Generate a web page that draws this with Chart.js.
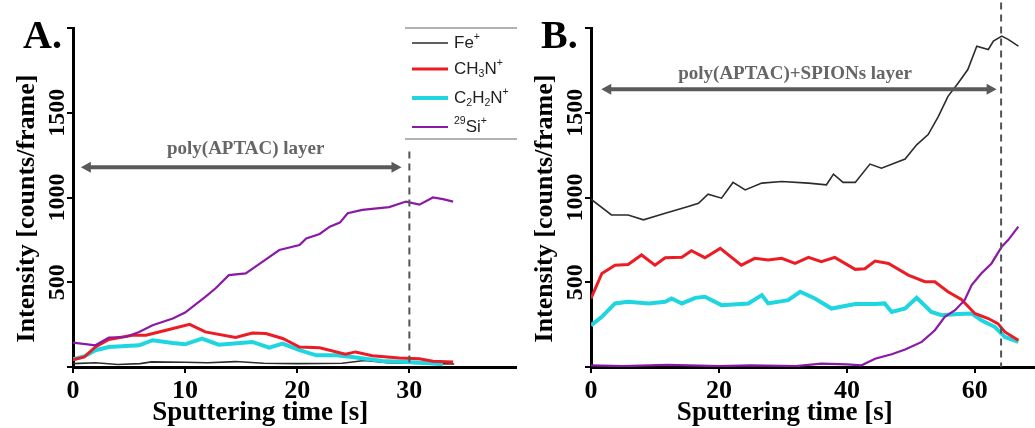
<!DOCTYPE html>
<html>
<head>
<meta charset="utf-8">
<script src="https://cdn.jsdelivr.net/npm/chart.js@4.4.1/dist/chart.umd.min.js"></script>
<style>
html, body { margin: 0; padding: 0; background: #fff; }
#wrap { position: relative; width: 1035px; height: 428px; overflow: hidden; }
#wrap canvas { position: absolute; top: 0; }
</style>
</head>
<body>
<div id="wrap">
    <canvas id="chartA" width="517" height="428" style="left:0"></canvas>
    <canvas id="chartB" width="518" height="428" style="left:517px"></canvas>
</div>
<script>
// panel A - poly(APTAC)
const timeA_fe = [0, 2, 4, 6, 7, 10, 12, 14.5, 17, 20, 24, 26, 28, 30, 32, 34];
const feA = [20, 25, 15, 20, 30, 28, 25, 32, 22, 20, 22, 38, 25, 22, 20, 18];
const timeA_ch = [0, 1, 2, 3.2, 5.3, 6.5, 8.3, 10.4, 11.8, 14.5, 16, 17.2, 18.7, 20.2, 22, 24.3, 25.2, 26.7, 29.1, 30.9, 32.1, 33.9];
const chA = [43, 59, 118, 162, 187, 187, 217, 252, 207, 174, 201, 197, 168, 118, 114, 75, 89, 67, 53, 49, 34, 30];
const timeA_c2 = [0, 1, 2, 3.2, 5.9, 7.1, 8.9, 10, 11.5, 13, 16, 17.5, 18.7, 20.2, 21.7, 23.5, 24.9, 27.6, 29.7, 31.5, 33];
const c2A = [45, 62, 99, 118, 128, 158, 142, 134, 168, 132, 148, 114, 138, 99, 69, 69, 59, 35, 30, 24, 16];
const timeA_si = [0, 2, 3.2, 4.7, 5.9, 7.1, 8.9, 10, 11.8, 12.7, 13.9, 15.4, 16.6, 18.4, 20.2, 20.8, 22, 22.9, 23.8, 24.5, 25.8, 28.2, 29.7, 30.9, 32.1, 33, 33.9];
const siA = [144, 128, 174, 177, 207, 246, 286, 321, 414, 463, 542, 552, 607, 690, 720, 759, 785, 828, 852, 907, 927, 943, 976, 958, 1000, 990, 976];

// panel B - poly(APTAC)+SPIONs
const timeB_fe = [0, 3.2, 5.8, 8.2, 11.6, 15.2, 16.8, 18.3, 20.4, 22.2, 24.1, 26.7, 29.8, 34, 36.8, 37.9, 39.4, 41.3, 43.6, 45.4, 49.1, 50.9, 52.7, 54.3, 55.8, 57.4, 58.9, 60.3, 62.1, 62.9, 64.2, 65.2, 66.8];
const feB = [990, 897, 897, 868, 907, 947, 966, 1020, 996, 1089, 1045, 1085, 1094, 1085, 1075, 1138, 1089, 1089, 1197, 1173, 1227, 1311, 1371, 1479, 1597, 1676, 1755, 1893, 1873, 1923, 1952, 1933, 1893];
const timeB_ch = [0, 1.7, 3.75, 5.8, 7.9, 10, 11.6, 14.2, 15.7, 17.8, 20.2, 23.5, 25.6, 27.7, 29.8, 31.9, 34, 36, 38.1, 41.3, 42.8, 44.4, 46.5, 49.6, 52.2, 53.75, 55.8, 57.9, 60, 62.1, 63.6, 64.7, 66.8];
const chB = [404, 552, 601, 605, 661, 601, 645, 647, 686, 645, 700, 601, 641, 631, 641, 611, 647, 621, 647, 576, 580, 625, 611, 542, 503, 503, 444, 398, 316, 286, 256, 207, 158];
const timeB_c2 = [0, 1.7, 3.75, 5.8, 9, 11.6, 12.6, 14.2, 16.3, 17.8, 20.4, 24.6, 26.7, 27.7, 30.8, 32.7, 35, 37.6, 41.3, 44.4, 45.9, 47, 49.1, 50.9, 53.2, 54.8, 57.4, 59.5, 61, 63.1, 64.7, 66.8];
const c2B = [246, 296, 375, 385, 375, 385, 404, 375, 408, 414, 365, 375, 424, 375, 394, 444, 404, 345, 371, 371, 375, 325, 345, 408, 325, 306, 312, 316, 276, 237, 177, 148];
const timeB_si = [0, 5, 12, 20, 25, 32, 36, 40, 42.3, 44.4, 47, 49.1, 51.7, 53.75, 55.3, 56.9, 58.4, 59.5, 61, 62.6, 64.2, 65.2, 66.8];
const siB = [10, 5, 12, 5, 10, 5, 20, 15, 10, 49, 75, 103, 148, 217, 296, 335, 394, 483, 552, 611, 710, 749, 828];

// axis ticks
const xTicksA = [0, 10, 20, 30];
const xTicksB = [0, 20, 40, 60];
const yTicks = [0, 500, 1000, 1500, 2000];
const yTickLabels = [500, 1000, 1500];

// legend (label pieces: normal / sub / sup)
const legendItems = [
    { color: '#2b2b2b', width: 1.6, runs: [['Fe'], ['+', 'sup']] },
    { color: '#ec1c24', width: 3, runs: [['CH'], ['3', 'sub'], ['N'], ['+', 'sup']] },
    { color: '#1fd6e0', width: 4, runs: [['C'], ['2', 'sub'], ['H'], ['2', 'sub'], ['N'], ['+', 'sup']] },
    { color: '#8a1aa6', width: 2.2, runs: [['29', 'sup'], ['Si'], ['+', 'sup']] }
];

const SERIF = '"Liberation Serif", "Times New Roman", serif';
const SANS = '"Liberation Sans", Arial, sans-serif';

function pts(xs, ys) {
    return xs.map((x, i) => ({ x: x, y: ys[i] }));
}

function drawRuns(ctx, x, y, runs, size) {
    ctx.textBaseline = 'middle';
    ctx.textAlign = 'left';
    runs.forEach(r => {
        const kind = r[1];
        let s = size, dy = 0;
        if (kind === 'sub') { s = size * 0.62; dy = size * 0.3; }
        if (kind === 'sup') { s = size * 0.62; dy = -size * 0.35; }
        ctx.font = s + 'px ' + SANS;
        ctx.fillText(r[0], x, y + dy);
        x += ctx.measureText(r[0]).width;
    });
}

// 주석: 화살표, 점선, 회전된 눈금 라벨, 제목, 범례
const annot = {
    id: 'annot',
    afterDraw(chart, args, o) {
        const ctx = chart.ctx;
        const xs = chart.scales.x, ys = chart.scales.y;
        ctx.save();

        // dashed boundary
        const dx = xs.getPixelForValue(o.dashX);
        ctx.strokeStyle = '#555';
        ctx.lineWidth = 2;
        ctx.setLineDash([7, 5]);
        ctx.beginPath();
        ctx.moveTo(dx, ys.getPixelForValue(o.dashTop));
        ctx.lineTo(dx, ys.getPixelForValue(0));
        ctx.stroke();
        ctx.setLineDash([]);

        // double arrow
        const ax0 = xs.getPixelForValue(o.arrow[0]);
        const ax1 = xs.getPixelForValue(o.arrow[1]);
        const ay = ys.getPixelForValue(o.arrow[2]);
        ctx.strokeStyle = '#5a5a5a';
        ctx.fillStyle = '#5a5a5a';
        ctx.lineWidth = 4;
        ctx.beginPath();
        ctx.moveTo(ax0 + 6, ay);
        ctx.lineTo(ax1 - 6, ay);
        ctx.stroke();
        ctx.beginPath();
        ctx.moveTo(ax0, ay); ctx.lineTo(ax0 + 10, ay - 5.5); ctx.lineTo(ax0 + 10, ay + 5.5); ctx.closePath();
        ctx.moveTo(ax1, ay); ctx.lineTo(ax1 - 10, ay - 5.5); ctx.lineTo(ax1 - 10, ay + 5.5); ctx.closePath();
        ctx.fill();

        ctx.fillStyle = '#666';
        ctx.font = 'bold 19px ' + SERIF;
        ctx.textAlign = 'center';
        ctx.textBaseline = 'middle';
        ctx.fillText(o.layerText, xs.getPixelForValue(o.layerPos[0]), ys.getPixelForValue(o.layerPos[1]));

        // rotated y tick labels
        ctx.fillStyle = '#000';
        ctx.font = 'bold 24px ' + SERIF;
        ctx.textBaseline = 'alphabetic';
        const left = chart.chartArea.left;
        yTickLabels.forEach(v => {
            ctx.save();
            ctx.translate(left - 9, ys.getPixelForValue(v));
            ctx.rotate(-Math.PI / 2);
            ctx.fillText(String(v), 0, 0);
            ctx.restore();
        });

        // y title
        ctx.save();
        ctx.font = 'bold 26px ' + SERIF;
        ctx.translate(left - 39, ys.getPixelForValue(935));
        ctx.rotate(-Math.PI / 2);
        ctx.fillText('Intensity [counts/frame]', 0, 0);
        ctx.restore();

        // x title
        ctx.textBaseline = 'middle';
        ctx.font = 'bold 27px ' + SERIF;
        ctx.fillText('Sputtering time [s]', xs.getPixelForValue(o.xTitleAt), 413);

        // panel letter
        ctx.font = 'bold 40px ' + SERIF;
        ctx.textAlign = 'left';
        ctx.textBaseline = 'alphabetic';
        ctx.fillText(o.letter, left - 50, 48);

        // legend
        if (o.legend) {
            ctx.strokeStyle = '#999';
            ctx.lineWidth = 1.5;
            ctx.beginPath();
            ctx.moveTo(405, 28); ctx.lineTo(517, 28);
            ctx.moveTo(405, 139); ctx.lineTo(517, 139);
            ctx.stroke();
            const rows = [43, 69, 98, 127];
            legendItems.forEach((it, i) => {
                ctx.strokeStyle = it.color;
                ctx.lineWidth = it.width;
                ctx.beginPath();
                ctx.moveTo(412, rows[i]);
                ctx.lineTo(448, rows[i]);
                ctx.stroke();
                ctx.fillStyle = '#222';
                drawRuns(ctx, 454, rows[i], it.runs, 17);
            });
        }
        ctx.restore();
    }
};

function makeChart(id, series, xMax, xTicks, yWidth, annotOpts) {
    const tickFont = { family: SERIF, weight: 'bold', size: 26 };
    return new Chart(document.getElementById(id), {
        type: 'line',
        data: {
            datasets: [
                { data: series.si, borderColor: '#8a1aa6', borderWidth: 2.2 },
                { data: series.ch, borderColor: '#ec1c24', borderWidth: 3 },
                { data: series.c2, borderColor: '#1fd6e0', borderWidth: 4 },
                { data: series.fe, borderColor: '#2b2b2b', borderWidth: 1.6 }
            ].map(d => Object.assign(d, { pointRadius: 0, tension: 0, fill: false }))
        },
        options: {
            responsive: false,
            animation: false,
            layout: { padding: { top: 28, left: 0, right: 0, bottom: 0 } },
            plugins: { legend: { display: false }, tooltip: { enabled: false }, annot: annotOpts },
            scales: {
                x: {
                    type: 'linear',
                    min: 0,
                    max: xMax,
                    afterBuildTicks: s => { s.ticks = xTicks.map(v => ({ value: v })); },
                    afterFit: s => { s.height = 61; },
                    border: { color: '#000', width: 3 },
                    grid: { drawOnChartArea: false, color: '#000', lineWidth: 2, tickLength: 6 },
                    ticks: { color: '#000', font: tickFont, padding: 3, maxRotation: 0, autoSkip: false }
                },
                y: {
                    min: 0,
                    max: 2000,
                    afterBuildTicks: s => { s.ticks = yTicks.map(v => ({ value: v })); },
                    afterFit: s => { s.width = yWidth; },
                    border: { color: '#000', width: 3 },
                    grid: { drawOnChartArea: false, color: '#000', lineWidth: 2, tickLength: 6 },
                    ticks: { display: false }
                }
            }
        },
        plugins: [annot]
    });
}

makeChart('chartA', {
    fe: pts(timeA_fe, feA), ch: pts(timeA_ch, chA), c2: pts(timeA_c2, c2A), si: pts(timeA_si, siA)
}, 39.6, xTicksA, 73, {
    letter: 'A.', dashX: 30, dashTop: 1272, arrow: [0.7, 29.3, 1178],
    layerText: 'poly(APTAC) layer', layerPos: [15.4, 1284], xTitleAt: 16.7, legend: true
});

makeChart('chartB', {
    fe: pts(timeB_fe, feB), ch: pts(timeB_ch, chB), c2: pts(timeB_c2, c2B), si: pts(timeB_si, siB)
}, 69.4, xTicksB, 74, {
    letter: 'B.', dashX: 64.1, dashTop: 2150, arrow: [1.6, 63.4, 1639],
    layerText: 'poly(APTAC)+SPIONs layer', layerPos: [31.9, 1728], xTitleAt: 30.3, legend: false
});
</script>
</body>
</html>
